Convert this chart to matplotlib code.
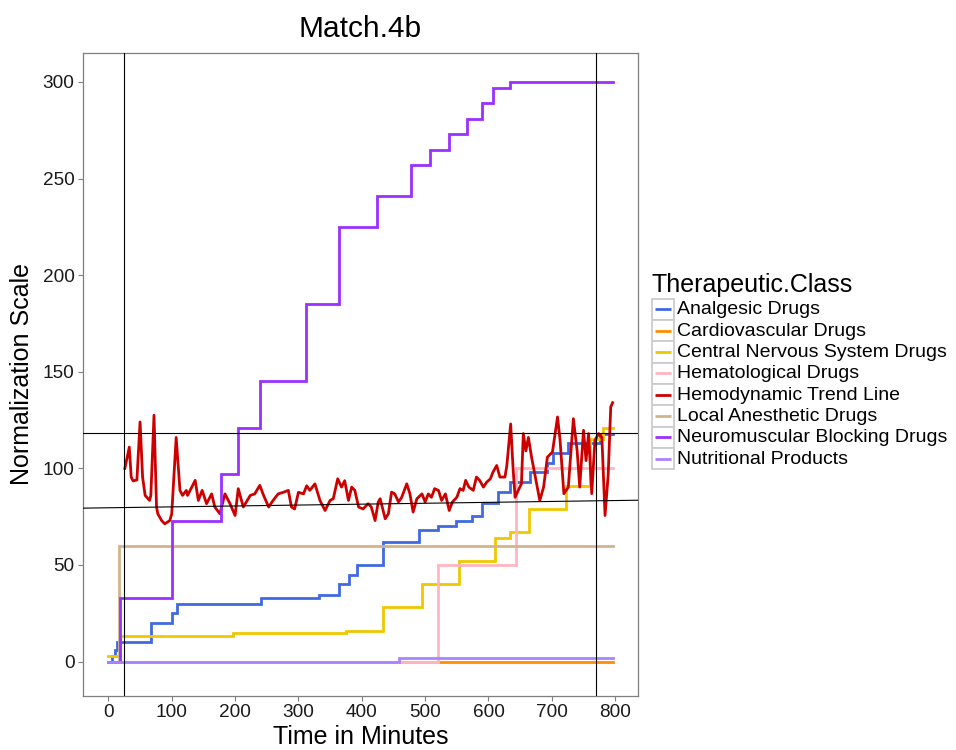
import matplotlib
matplotlib.use("Agg")
import matplotlib.pyplot as plt
from matplotlib.patches import Rectangle

plt.rcParams['font.family'] = ['Liberation Sans', 'DejaVu Sans']

# ---------------- data ----------------
title = "Match.4b"
x_label = "Time in Minutes"
y_label = "Normalization Scale"
legend_title = "Therapeutic.Class"

classes = ["Analgesic Drugs", "Cardiovascular Drugs", "Central Nervous System Drugs",
           "Hematological Drugs", "Hemodynamic Trend Line", "Local Anesthetic Drugs",
           "Neuromuscular Blocking Drugs", "Nutritional Products"]
colors = ["#4169E1", "#FF8C00", "#F0C800", "#FFB6C1", "#CD0000", "#D2B48C",
          "#9B30FF", "#AB82FF"]

x_ticks = [0, 100, 200, 300, 400, 500, 600, 700, 800]
y_ticks = [0, 50, 100, 150, 200, 250, 300]

analgesic_t = [0, 6, 10, 13, 68, 101, 108, 241, 332, 364, 380, 393, 433, 491, 520,
               549, 574, 590, 615, 634, 666, 692, 702, 726, 776, 796]
analgesic_v = [0, 3, 6, 10, 20, 25, 30, 33, 34.5, 40, 45, 50, 62, 68, 70,
               73, 75.5, 82, 88, 93, 98, 103, 108, 113, 118, 118]

cardio_t = [0, 796]
cardio_v = [0, 0]

cns_t = [0, 18, 196, 375, 433, 495, 554, 611, 634, 664, 723, 760, 781, 796]
cns_v = [3, 13, 15, 16, 28, 40, 52, 64, 67, 79, 91, 115, 121, 121]

hema_t = [0, 521, 644, 796]
hema_v = [0, 50, 100, 100]

hemo_t = [26, 33, 36, 39, 45, 50, 54, 58, 65, 67, 72, 76, 78, 84, 89, 97, 100, 107,
          113, 117, 123, 125, 137, 142, 148, 155, 163, 168, 176, 184, 192, 200, 205,
          213, 224, 231, 239, 245, 253, 260, 268, 276, 284, 289, 294, 300, 308, 313,
          318, 326, 334, 342, 350, 355, 362, 368, 373, 379, 384, 389, 395, 402, 410,
          415, 421, 426, 429, 437, 442, 447, 452, 458, 463, 471, 476, 481, 487, 495,
          500, 505, 510, 515, 521, 526, 532, 538, 543, 550, 555, 560, 564, 569, 576,
          581, 586, 592, 597, 603, 607, 613, 618, 626, 629, 635, 639, 642, 647, 652,
          655, 659, 663, 668, 675, 681, 687, 693, 701, 709, 713, 719, 726, 734, 740,
          744, 750, 754, 758, 763, 768, 774, 779, 784, 789, 793, 796]
hemo_v = [100, 111, 95.5, 93.5, 94, 124, 95.5, 86, 83.4, 86, 127.5, 80, 76.5, 73,
          71.3, 73, 76.5, 116, 88.6, 86, 88.6, 86, 93.8, 83.4, 88.6, 81.7, 86.8, 80,
          76.5, 86.8, 81.7, 75.6, 89.5, 80, 86, 86.8, 91.2, 86, 80, 83.4, 86.8, 87.6,
          88.6, 80, 79, 87.6, 86.8, 91, 88.6, 92, 83.4, 78.2, 83.4, 84.3, 94.6, 90.3,
          93.6, 83.4, 90.3, 88.6, 80, 79, 81.7, 80, 73, 82.6, 84.3, 73.9, 76.5, 87.7,
          86.8, 82.6, 85, 92, 86.8, 77.4, 84.3, 86.8, 82.6, 86.8, 85, 89.5, 88.6, 83.4,
          86.8, 78.2, 82.6, 85, 89.5, 88.6, 93.8, 90.3, 88.6, 95.5, 93.8, 90.3, 92.8,
          94.6, 98, 101.5, 95.5, 95.5, 101.5, 123, 99, 85, 88.6, 92, 118, 109, 116,
          105.8, 93.8, 83.4, 90.3, 105.8, 108.5, 126.6, 114.5, 86.9, 90.3, 125.7, 109,
          90.3, 119.7, 104, 118, 86.9, 114.5, 118, 116, 75.6, 97, 131.8, 134]

local_t = [0, 17.5, 796]
local_v = [0, 60, 60]

neuro_t = [0, 18.5, 100, 177, 205, 239, 312, 364.5, 424, 478, 508, 538, 566, 590,
           607.5, 634, 796]
neuro_v = [0, 33, 73, 97, 121, 145, 185, 225, 241, 257, 265, 273, 281, 289, 297,
           300, 300]

nutri_t = [0, 459, 796]
nutri_v = [0, 1.7, 1.7]

vlines_x = [25, 770]
hline_y = 118.4
trend_intercept = 79.6
trend_slope = 0.00468

# ---------------- figure ----------------
W, H = 956, 750
fig = plt.figure(figsize=(W / 100, H / 100), dpi=100)
L, R, T, B = 83.3, 637.8, 53.3, 695.6
ax = fig.add_axes([L / W, 1 - B / H, (R - L) / W, (B - T) / H])

lw = 2.0
series = [
    (analgesic_t, analgesic_v, True),
    (cardio_t, cardio_v, True),
    (cns_t, cns_v, True),
    (hema_t, hema_v, True),
    (hemo_t, hemo_v, False),
    (local_t, local_v, True),
    (neuro_t, neuro_v, True),
    (nutri_t, nutri_v, True),
]
for i, (t, v, is_step) in enumerate(series):
    if is_step:
        ax.step(t, v, where='post', color=colors[i], lw=lw, zorder=2 + i * 0.1,
                solid_joinstyle='miter')
    else:
        ax.plot(t, v, color=colors[i], lw=lw, zorder=2 + i * 0.1)

for xv in vlines_x:
    ax.axvline(xv, color='black', lw=0.8, zorder=5)
ax.axhline(hline_y, color='black', lw=0.8, zorder=5)
ax.axline((0, trend_intercept), slope=trend_slope, color='black', lw=0.8, zorder=5)

ax.set_xlim(-39.6, 835.7)
ax.set_ylim(-17.6, 314.8)
ax.set_xticks(x_ticks)
ax.set_yticks(y_ticks)
ax.tick_params(axis='both', direction='out', length=3.3, width=0.8, color='#7F7F7F',
               labelsize=13.7, labelcolor='#1A1A1A', pad=3)
for s in ax.spines.values():
    s.set_color('#7F7F7F')
    s.set_linewidth(0.9)

fig.text(360.5 / W, 1 - 37.3 / H, title, ha='center', va='baseline', fontsize=21.5,
         color='black')
fig.text(360.5 / W, 1 - 744 / H, x_label, ha='center', va='baseline', fontsize=18,
         color='black')
fig.text(22 / W, 1 - ((T + B) / 2) / H, y_label, ha='center', va='center', fontsize=18,
         rotation=90, color='black')

# ---------------- legend ----------------
ov = fig.add_axes([0, 0, 1, 1], zorder=10)
ov.set_xlim(0, W)
ov.set_ylim(H, 0)
ov.axis('off')
ov.patch.set_alpha(0)
ov.text(652, 292, legend_title, ha='left', va='baseline', fontsize=18, color='black')
row_h = 21.35
top0 = 298.5
for i, name in enumerate(classes):
    y0 = top0 + i * row_h
    ov.add_patch(Rectangle((652, y0), 22.5, row_h, facecolor='white',
                           edgecolor='#CCCCCC', lw=1.3))
    ov.plot([655.5, 671.5], [y0 + row_h / 2] * 2, color=colors[i], lw=2.0,
            solid_capstyle='butt')
    ov.text(677.5, y0 + row_h / 2 + 0.5, name, ha='left', va='center', fontsize=14,
            color='black')

fig.savefig("out.png", dpi=100)
